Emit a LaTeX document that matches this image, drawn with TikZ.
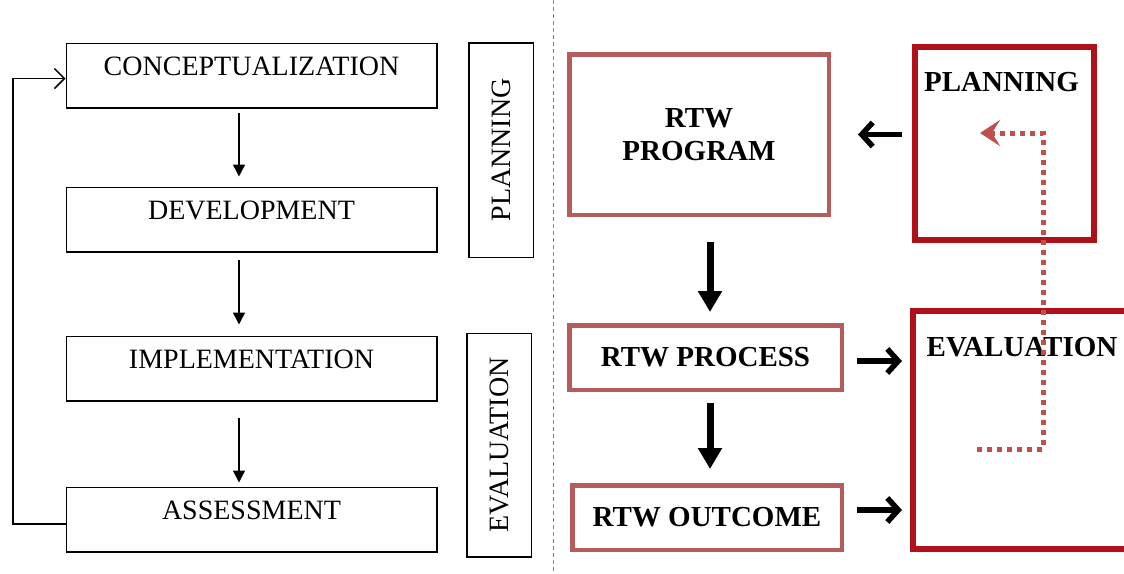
\documentclass[tikz,border=0pt]{standalone}
\usepackage{fontspec}
\setmainfont{Liberation Serif}
\usetikzlibrary{arrows.meta}
\definecolor{rtwred}{HTML}{B65C5C}
\definecolor{darkred}{HTML}{B0101A}
\definecolor{dotred}{HTML}{C0504D}
\tikzset{
  lbox/.style={draw, line width=1.5pt, minimum width=370.5pt, font=\fontsize{28}{32}\selectfont,
    text height=18.5pt, text depth=18pt, inner ysep=14pt},
  vbox/.style={draw, line width=1.5pt, rotate=90, font=\fontsize{28}{32}\selectfont, inner sep=0pt},
  rbox/.style={draw=rtwred, line width=4.5pt, font=\fontsize{29}{34}\selectfont\bfseries, align=center, inner sep=0pt},
  bbox/.style={draw=darkred, line width=6pt, inner sep=0pt},
  blab/.style={font=\fontsize{29}{34}\selectfont\bfseries},
  thinarr/.style={line width=1.5pt, -{Triangle[length=12pt,width=12pt]}},
  downarr/.style={line width=7pt, -{Triangle[length=21pt,width=23pt]}},
  sidearr/.style={line width=5.5pt, -{Straight Barb[length=11pt,width=24pt,line width=5.5pt]}},
  dotarr/.style={draw=dotred, line width=5pt, dash pattern=on 5pt off 5pt,
    -{Stealth[length=20pt,width=26pt,inset=8pt,fill=dotred]}}
}
\begin{document}
\begin{tikzpicture}[x=1pt,y=-1pt]
\useasboundingbox[fill=white] (0,0) rectangle (1124,573);
% separator
\coordinate (sepT) at (553,0);
\coordinate (sepB) at (553,573);
\draw[gray, line width=1pt, dash pattern=on 4pt off 3pt] (sepT) -- (sepB);
% left column
\node[lbox] (c)  at (251.5,75.5)  {CONCEPTUALIZATION};
\node[lbox] (d)  at (251.5,219.5) {DEVELOPMENT};
\node[lbox] (im) at (251.5,368.5) {IMPLEMENTATION};
\node[lbox] (as) at (251.5,519.5) {ASSESSMENT};
\node[vbox, minimum width=214.5pt, minimum height=64.5pt] (vp) at (501,150) {PLANNING};
\node[vbox, minimum width=223.5pt, minimum height=64.5pt] (ve) at (499,445) {EVALUATION};
\draw[thinarr, shorten <=4pt, shorten >=10pt] ([xshift=-12.5pt]c.south) -- ([xshift=-12.5pt]d.north);
\draw[thinarr, shorten <=7pt, shorten >=11pt] ([xshift=-12.5pt]d.south) -- ([xshift=-12.5pt]im.north);
\draw[thinarr, shorten <=16pt, shorten >=4pt] ([xshift=-12.5pt]im.south) -- ([xshift=-12.5pt]as.north);
\coordinate (aout) at ([yshift=-4.5pt]as.west);
\coordinate (cin) at ([yshift=-3pt]c.west);
\coordinate (fbx) at (13,0);
\draw[line width=1.5pt, -{Straight Barb[length=10pt,width=20pt,line width=1.5pt]}] (aout) -| (fbx |- cin) -- (cin);
% right column
\node[rbox, minimum width=259.5pt, minimum height=160.5pt] (prog) at (699,134.5) {RTW\\[-1pt]PROGRAM};
\node[rbox, minimum width=272.5pt, minimum height=64.5pt] (proc) at (705.5,357.5) {RTW PROCESS};
\node[rbox, minimum width=269.5pt, minimum height=64.5pt] (outc) at (707,517.5) {RTW OUTCOME};
\node[bbox, minimum width=179pt, minimum height=193pt,
  label={[blab, anchor=north, yshift=-25.2pt, xshift=-3pt]north:PLANNING}] (plan) at (1004.5,143.5) {};
\node[bbox, minimum width=220pt, minimum height=238pt,
  label={[blab, anchor=north, yshift=-26.2pt, xshift=-1pt]north:EVALUATION}] (eval) at (1023,430) {};
% arrows
\draw[sidearr, shorten <=10pt, shorten >=27pt] (plan.west |- prog.east) -- (prog.east);
\draw[downarr, shorten <=25pt, shorten >=11pt] ([xshift=11pt]prog.south) -- ([xshift=11pt]prog.south |- proc.north);
\coordinate (ps) at ([xshift=4.5pt]proc.south);
\draw[downarr, shorten <=11pt, shorten >=14pt] (ps) -- (ps |- outc.north);
\coordinate (pe) at ([yshift=-3.5pt]proc.east);
\draw[sidearr, shorten <=13pt, shorten >=8pt] (pe) -- (pe -| eval.west);
\coordinate (oe) at ([yshift=7.5pt]outc.east);
\draw[sidearr, shorten <=13pt, shorten >=8pt] (oe) -- (oe -| eval.west);
% dotted feedback
\coordinate (dstart) at (977,449);
\coordinate (dend) at (980,133);
\coordinate (dcol) at (1043,0);
\draw[dotarr] (dstart) -| (dcol |- dend) -- (dend);
\end{tikzpicture}
\end{document}
